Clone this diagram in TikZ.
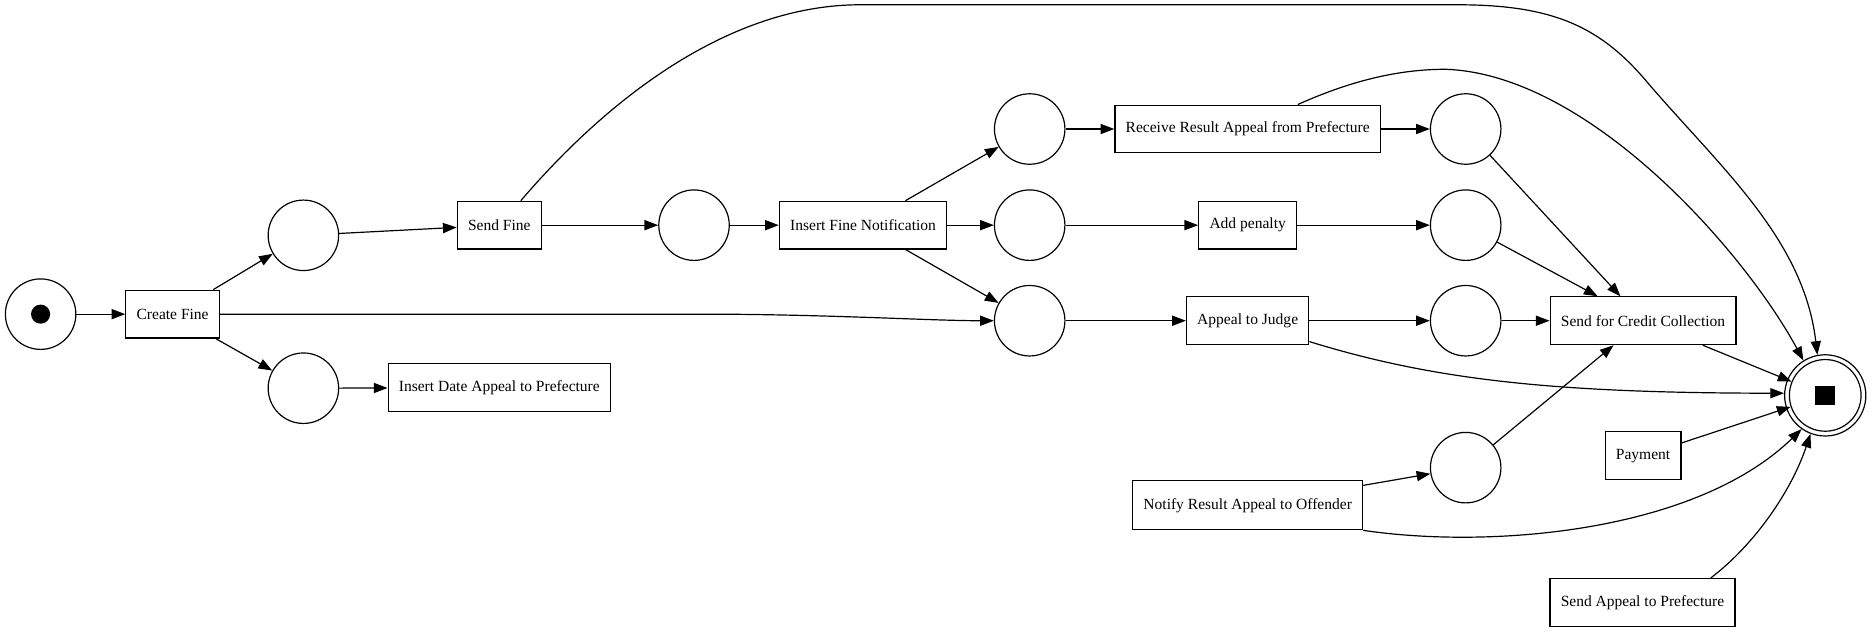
\documentclass[tikz,border=0pt]{standalone}
\usepackage{fontspec}
\setmainfont{Liberation Serif}
\usetikzlibrary{arrows.meta}
\begin{document}
\begin{tikzpicture}[x=1pt,y=-1pt,
  box/.style={draw, line width=1pt, rectangle, minimum height=40pt, inner xsep=9pt, font=\fontsize{13}{15}\selectfont},
  place/.style={draw, line width=1pt, circle, minimum size=59pt, inner sep=0pt},
  arc/.style={line width=1pt, -{Triangle[length=11.5pt,width=8.5pt]}},
  token/.style={fill, circle, minimum size=16pt, inner sep=0pt},
  endtoken/.style={fill, rectangle, minimum size=16.5pt, inner sep=0pt},
]
\useasboundingbox (0,0) rectangle (1568,529);
% nodes
\node[place] (start) at (34,263) {};
\node[token] (starttok) at (start) {};
\node[box] (cf) at (144.5,263) {Create Fine};
\node[place] (p1) at (254,197) {};
\node[place] (p2) at (254,325) {};
\node[box] (sf) at (418,188.5) {Send Fine};
\node[box] (ida) at (418,324.5) {Insert Date Appeal to Prefecture};
\node[place] (p3) at (581,188.5) {};
\node[box] (ifn) at (722.5,188.5) {Insert Fine Notification};
\node[place] (p4) at (862,108) {};
\node[place] (p5) at (862,188.5) {};
\node[place] (p6) at (862,268.5) {};
\node[box] (rr) at (1044.5,108) {Receive Result Appeal from Prefecture};
\node[box] (ap) at (1044.5,188.5) {Add penalty};
\node[box] (aj) at (1044.5,268.5) {Appeal to Judge};
\node[place] (p7) at (1227,108) {};
\node[place] (p8) at (1227,188.5) {};
\node[place] (p9) at (1227,268.5) {};
\node[place] (p10) at (1227,391.5) {};
\node[box] (scc) at (1375.5,268.5) {Send for Credit Collection};
\node[box] (pay) at (1375.5,381.5) {Payment};
\node[box, minimum height=41pt] (nr) at (1044.5,423) {Notify Result Appeal to Offender};
\node[box] (sap) at (1375,504.5) {Send Appeal to Prefecture};
\node[draw, circle, line width=1pt, minimum size=68pt, inner sep=0pt] (endp) at (1528,331) {};
\node[draw, circle, line width=1pt, minimum size=60pt, inner sep=0pt] (endin) at (endp) {};
\node[endtoken] (endtok) at (endp) {};
% straight arcs
\draw[arc] (start) -- (cf);
\draw[arc] (cf) -- (p1);
\draw[arc] (cf) -- (p2);
\draw[arc] (cf.east) -- (600,263) .. controls (700,263.5) and (780,268.5) .. (p6.west);
\draw[arc] (p1) -- (sf);
\draw[arc] (p2) -- (ida);
\draw[arc] (sf) -- (p3);
\draw[arc] (p3) -- (ifn);
\draw[arc] (ifn) -- (p4);
\draw[arc] (ifn) -- (p5);
\draw[arc] (ifn) -- (p6);
\draw[arc] (p4) -- (rr);
\draw[arc] (p5) -- (ap);
\draw[arc] (p6) -- (aj);
\draw[arc] (rr) -- (p7);
\draw[arc] (ap) -- (p8);
\draw[arc] (aj) -- (p9);
\draw[arc] (p7) -- (scc);
\draw[arc] (p8) -- (scc);
\draw[arc] (p9) -- (scc);
\draw[arc] (p10) -- (scc);
\draw[arc] (scc) -- (endin);
\draw[arc] (pay) -- (endin);
\draw[arc] (nr) -- (p10);
% curved arcs to the end place
\draw[arc] ([xshift=18pt]sf.north) .. controls (520,70) and (620,4) .. (720,4) -- (1220,4)
   .. controls (1300,4) and (1340,22) .. (1380,70) .. controls (1440,140) and (1510,200) .. (endp.101);
\draw[arc] ([xshift=42pt]rr.north) .. controls (1130,68) and (1170,58) .. (1210,58)
   .. controls (1330,62) and (1460,210) .. (endp.122);
\draw[arc] ([yshift=3pt]aj.south east) .. controls (1200,318) and (1300,329) .. (endp.177);
\draw[arc] (nr.south east) .. controls (1250,460) and (1420,445) .. (endp.235);
\draw[arc] ([xshift=57pt]sap.north) .. controls (1470,455) and (1500,410) .. (endp.249);
\end{tikzpicture}
\end{document}
